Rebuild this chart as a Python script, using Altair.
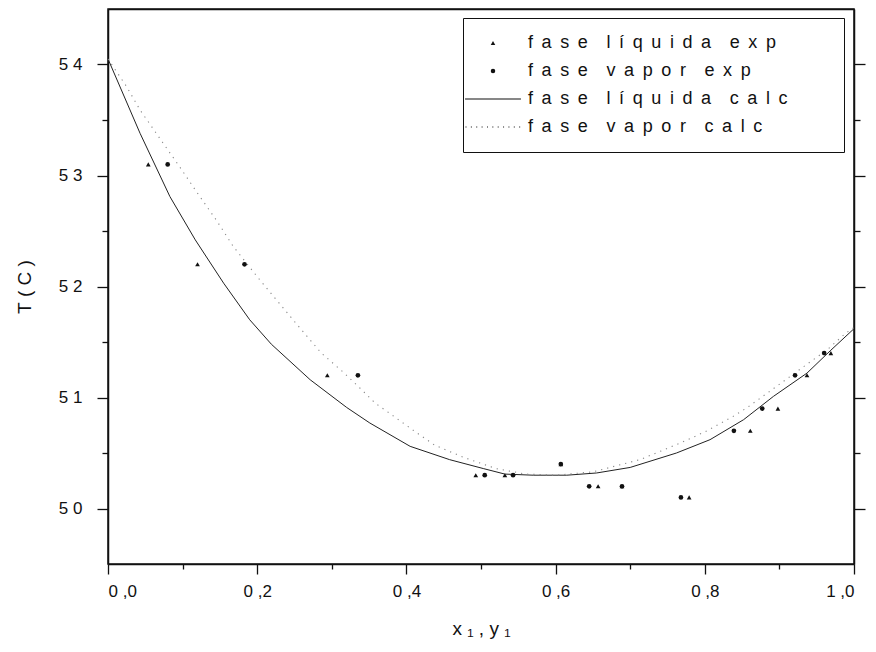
import altair as alt
import pandas as pd

NB = "\u00a0"
TH = "\u2009"

# ---- calculated curves ----
liq_calc_x = [0.0, 0.043, 0.083, 0.117, 0.155, 0.190, 0.219, 0.271, 0.320, 0.351, 0.405,
              0.458, 0.503, 0.532, 0.570, 0.615, 0.655, 0.700, 0.762, 0.807, 0.852,
              0.892, 0.937, 0.968, 1.0]
liq_calc_T = [54.05, 53.38, 52.81, 52.42, 52.03, 51.70, 51.48, 51.16, 50.91, 50.77, 50.56,
              50.44, 50.36, 50.31, 50.30, 50.30, 50.32, 50.37, 50.50, 50.62, 50.80,
              51.01, 51.22, 51.42, 51.62]

vap_calc_x = [0.0, 0.025, 0.043, 0.073, 0.099, 0.117, 0.146, 0.168, 0.201, 0.222, 0.253,
              0.286, 0.315, 0.340, 0.358, 0.377, 0.408, 0.438, 0.477, 0.520, 0.560,
              0.600, 0.650, 0.713, 0.742, 0.767, 0.800, 0.838, 0.857, 0.888, 0.939,
              0.964, 0.989, 1.0]
vap_calc_T = [54.05, 53.80, 53.59, 53.30, 53.05, 52.87, 52.59, 52.36, 52.08, 51.91, 51.66,
              51.40, 51.23, 51.07, 50.95, 50.86, 50.71, 50.57, 50.46, 50.36, 50.31,
              50.30, 50.33, 50.44, 50.52, 50.59, 50.69, 50.83, 50.91, 51.06, 51.31,
              51.43, 51.58, 51.63]

# ---- experimental points ----
exp_T = [53.1, 52.2, 51.2, 50.3, 50.3, 50.4, 50.2, 50.2, 50.1, 50.7, 50.9, 51.2, 51.4]
liq_exp_x = [0.054, 0.120, 0.294, 0.493, 0.532, 0.607, 0.657, 0.689, 0.779, 0.861, 0.898, 0.937, 0.969]
vap_exp_x = [0.080, 0.183, 0.335, 0.505, 0.543, 0.607, 0.645, 0.689, 0.768, 0.839, 0.877, 0.921, 0.960]

series_names = ["fase líquida exp", "fase vapor exp", "fase líquida calc", "fase vapor calc"]


def spaced(s):
    return (NB * 3 + TH).join((NB + TH).join(w) for w in s.split(" ")) + NB * 8 + "\u200b"


names = [spaced(s) for s in series_names]

x_ticks = [round(i * 0.1, 1) for i in range(11)]
y_ticks = [50 + 0.5 * i for i in range(9)]

FONT = "Liberation Sans"
INK = "#111111"

liq_df = pd.DataFrame({"x": liq_calc_x, "T": liq_calc_T})
vap_df = pd.DataFrame({"x": vap_calc_x, "T": vap_calc_T})
n = len(exp_T)
exp_df = pd.DataFrame({
    "x": liq_exp_x + vap_exp_x,
    "T": exp_T + exp_T,
    "serie": [names[0]] * n + [names[1]] * n,
})

xscale = alt.Scale(domain=[0, 1], nice=False, zero=False)
yscale = alt.Scale(domain=[49.5, 54.5], nice=False, zero=False)

x_tick_size = {"condition": {"test": "round(datum.value*10) % 2 == 0", "value": 10}, "value": 5}
y_tick_size = {"condition": {"test": "datum.value % 1 == 0", "value": 11}, "value": 6}

x_axis_main = alt.Axis(
    orient="bottom", values=x_ticks, grid=False,
    labelExpr="round(datum.value*10) % 2 == 0 ? replace(format(datum.value, '.1f'), '.', '" + NB + ",') : ''",
    tickSize=x_tick_size, labelFontSize=17, labelPadding=9, labelFont=FONT, labelColor=INK,
    title="x" + NB + "₁" + NB + "," + NB + "y" + NB + "₁", titleFont=FONT, titleFontSize=19,
    titleFontWeight="normal", titleColor=INK, titlePadding=20,
    domainColor=INK, domainWidth=1.5, tickColor=INK, tickWidth=1.3,
)
y_axis_main = alt.Axis(
    orient="left", values=y_ticks, grid=False,
    labelExpr="datum.value % 1 == 0 ? floor(datum.value/10) + '" + NB + "' + (datum.value % 10) : ''",
    tickSize=y_tick_size, labelFontSize=17, labelPadding=15, labelFont=FONT, labelColor=INK,
    title="T" + NB + "(" + NB + "C" + NB + ")", titleFont=FONT, titleFontSize=19,
    titleFontWeight="normal", titleColor=INK, titlePadding=24,
    domainColor=INK, domainWidth=1.5, tickColor=INK, tickWidth=1.3,
)
x_axis_top = alt.Axis(orient="top", ticks=False, labels=False, title=None, grid=False,
                      domainColor=INK, domainWidth=1.5)
y_axis_right = alt.Axis(orient="right", values=y_ticks, labels=False, title=None, grid=False,
                        tickSize=y_tick_size, tickColor=INK, tickWidth=1.3,
                        domainColor=INK, domainWidth=1.5)

liq_line = alt.Chart(liq_df).mark_line(color="#222222", strokeWidth=1).encode(
    x=alt.X("x:Q", scale=xscale, axis=x_axis_main),
    y=alt.Y("T:Q", scale=yscale, axis=y_axis_main),
    order="x:Q",
)

vap_line = alt.Chart(vap_df).mark_line(color="#888888", strokeWidth=1.1, strokeDash=[1.2, 5]).encode(
    x=alt.X("x:Q", scale=xscale, axis=x_axis_top),
    y=alt.Y("T:Q", scale=yscale, axis=y_axis_right),
    order="x:Q",
)

# legend symbols for the calculated curves: thin filled bar (solid) and row of small squares (dotted)
h = 0.22
solid_path = f"M-12.5,{-h}L12.5,{-h}L12.5,{h}L-12.5,{h}Z"
dot_parts = []
k = -12.3
while k < 12.5:
    dot_parts.append(f"M{k:.2f},{-h}L{k + 0.45:.2f},{-h}L{k + 0.45:.2f},{h}L{k:.2f},{h}Z")
    k += 2.4
dotted_path = "".join(dot_parts)

points = alt.Chart(exp_df).mark_point(
    filled=True, color=INK, size=22, opacity=1
).encode(
    x=alt.X("x:Q", scale=xscale, axis=None),
    y=alt.Y("T:Q", scale=yscale, axis=None),
    shape=alt.Shape(
        "serie:N",
        scale=alt.Scale(domain=names, range=["triangle-up", "circle", solid_path, dotted_path]),
        legend=alt.Legend(title=None),
    ),
)

chart = alt.layer(liq_line, vap_line, points).resolve_axis(
    x="independent", y="independent"
).properties(
    width=746, height=555,
    autosize=alt.AutoSizeParams(type="none"),
    padding={"left": 100, "top": 1, "right": 14, "bottom": 80},
).configure_view(
    stroke=INK, strokeWidth=1.5
).configure_legend(
    orient="none", legendX=355, legendY=9,
    strokeColor=INK, fillColor="white", padding=16,
    labelFont=FONT, labelFontSize=18, labelColor=INK,
    rowPadding=10, symbolSize=20, symbolFillColor=INK,
    symbolStrokeWidth=0, symbolOffset=5, labelOffset=26,
    labelLimit=500,
)

chart.save("out.html", embed_options={"renderer": "svg", "actions": False})
